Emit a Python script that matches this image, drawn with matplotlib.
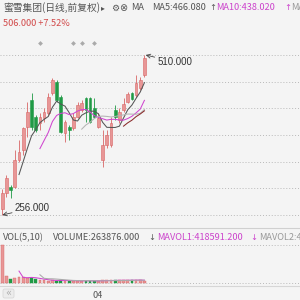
import numpy as np
import matplotlib
matplotlib.use("Agg")
import matplotlib.pyplot as plt
from matplotlib.patches import Rectangle, FancyBboxPatch

plt.rcParams['font.family'] = ['Noto Sans CJK SC', 'DejaVu Sans']

# ---------------- data ----------------
opens  = [266, 291, 301, 300, 343, 359, 396, 439, 412, 402,
          410, 418, 450, 467, 443, 386, 396, 394, 412, 423,
          442, 442, 426, 396, 343, 367, 367, 423, 407, 423,
          435, 450, 446, 458, 478]
highs  = [298, 320, 304, 359, 375, 396, 435, 450, 415, 418,
          426, 450, 474, 470, 447, 407, 399, 418, 435, 439,
          443, 443, 442, 418, 391, 391, 412, 431, 426, 442,
          451, 451, 478, 475, 510]
lows   = [256, 285, 283, 299, 340, 351, 380, 391, 388, 391,
          404, 415, 447, 435, 386, 372, 375, 391, 410, 420,
          404, 402, 410, 394, 332, 362, 364, 407, 402, 420,
          434, 439, 443, 454, 475]
closes = [291, 315, 296, 343, 356, 394, 420, 396, 391, 412,
          420, 443, 470, 439, 388, 404, 391, 412, 431, 434,
          423, 404, 412, 410, 367, 383, 402.8, 412, 420, 432,
          448, 440, 465.8, 470.6, 506]
volumes = [6900000, 1150000, 560000, 850000, 1030000, 1030000, 910000, 850000, 560000, 420000,
           380000, 360000, 400000, 350000, 420000, 330000, 300000, 320000, 310000, 290000,
           330000, 310000, 300000, 280000, 420000, 420000, 400000, 380000, 410000, 440000,
           420000, 510000, 390000, 509080, 263876]
event_days = [9, 17, 19, 22]
month_label = "04"
month_pos = 22.7

ma_periods = [5, 10, 20, 30]
ma_colors = ['#555555', '#d046d0', '#b4b4b4', '#8a2b2b']
vol_ma_periods = [5, 10]
vol_ma_colors = ['#d046d0', '#aaaaaa']

RED_FACE = '#e89696'
RED_EDGE = '#d86666'
GREEN = '#1f9a45'
BG = '#f4f4f4'
TXT = '#555555'
MAG = '#cc44cc'

n = len(closes)
idx = np.arange(n)
o = np.array(opens, float); h = np.array(highs, float)
l = np.array(lows, float); c = np.array(closes, float)
v = np.array(volumes, float)

def sma(a, p):
    out = np.full(len(a), np.nan)
    for i in range(p - 1, len(a)):
        out[i] = a[i - p + 1:i + 1].mean()
    return out

W, H = 300, 300
fig = plt.figure(figsize=(3, 3), dpi=100, facecolor=BG)

def fx(x):
    return x / W
def fy(y):
    return 1 - y / H

pitch = 4.18
x0 = 2.3
xlim = (-x0 / pitch, (W - x0) / pitch)

# ---------------- price pane ----------------
top_px, bot_px = 30, 228
ax = fig.add_axes([0, fy(bot_px), 1, (bot_px - top_px) / H])
ax.set_facecolor(BG)
hi, lo = h.max(), l.min()
hi_px, lo_px = 55, 215
ppu = (lo_px - hi_px) / (hi - lo)
ax.set_ylim(lo - (bot_px - lo_px) / ppu, hi + (hi_px - top_px) / ppu)
ax.set_xlim(*xlim)
for s in ax.spines.values():
    s.set_visible(False)
ax.set_xticks([]); ax.set_yticks([])

for g in np.linspace(lo, hi, 7):
    ax.axhline(g, color='#b9b9b9', lw=0.7, ls=(0, (1, 2)), zorder=0)

bw = 0.66
for i in range(n):
    up = c[i] >= o[i]
    col = RED_EDGE if up else GREEN
    ax.vlines(i, l[i], h[i], color=col, lw=0.6, zorder=2)
    bot = min(o[i], c[i]); ht = max(abs(c[i] - o[i]), 0.8)
    ax.add_patch(Rectangle((i - bw / 2, bot), bw, ht,
                           facecolor=RED_FACE if up else GREEN,
                           edgecolor=col, lw=0.4, zorder=3))

mas = {}
for p, col in zip(ma_periods, ma_colors):
    mas[p] = sma(c, p)
    ax.plot(idx, mas[p], color=col, lw=0.75, zorder=4)

ax.scatter(event_days, [1.0 - 13 / (bot_px - top_px)] * len(event_days), marker='D', s=6,
           color='#aaaaaa', transform=ax.get_xaxis_transform(), zorder=5, linewidths=0)

imax = int(np.argmax(h)); imin = int(np.argmin(l))
ax.annotate(f"{h[imax]:.3f}", xy=(imax + 0.3, h[imax]), xytext=(8.5, -5),
            textcoords='offset points', ha='left', va='center', fontsize=7.0,
            color='#333333', family=['Liberation Sans'],
            arrowprops=dict(arrowstyle='->', color='#444444', lw=0.6, shrinkA=0, shrinkB=0))
ax.annotate(f"{l[imin]:.3f}", xy=(imin, l[imin]), xytext=(9, 5),
            textcoords='offset points', ha='left', va='center', fontsize=7.0,
            color='#333333', family=['Liberation Sans'],
            arrowprops=dict(arrowstyle='->', color='#444444', lw=0.6, shrinkA=0, shrinkB=0))

# ---------------- volume pane ----------------
vtop_px, vbot_px = 229, 285
axv = fig.add_axes([0, fy(vbot_px), 1, (vbot_px - vtop_px) / H])
axv.set_facecolor(BG)
vmax = v.max()
vmax_px, v0_px = 245, 282.5
vpp = (v0_px - vmax_px) / vmax
axv.set_ylim(-(vbot_px - v0_px) / vpp, vmax + (vmax_px - vtop_px) / vpp)
axv.set_xlim(*xlim)
for s in axv.spines.values():
    s.set_visible(False)
axv.set_xticks([]); axv.set_yticks([])
for g in [0, vmax]:
    axv.axhline(g, color='#b9b9b9', lw=0.7, ls=(0, (1, 2)), zorder=0)
for i in range(n):
    up = c[i] >= o[i]
    axv.bar(i, v[i], width=bw, color=RED_FACE if up else GREEN,
            edgecolor=RED_EDGE if up else GREEN, lw=0.3, zorder=2)
vmas = {}
for p, col in zip(vol_ma_periods, vol_ma_colors):
    vmas[p] = sma(v, p)
    axv.plot(idx, vmas[p], color=col, lw=0.75, zorder=4)

fig.add_artist(plt.Line2D([0, 1], [fy(228), fy(228)], color='#d0d0d0', lw=0.8))
fig.add_artist(plt.Line2D([0, 1], [fy(285.5), fy(285.5)], color='#d6d6d6', lw=0.8))

# ---------------- header texts ----------------
fs = 6.6
def t(x, y, s, col=TXT, **kw):
    fig.text(fx(x), fy(y), s, color=col, fontsize=kw.pop('fontsize', fs),
             ha='left', va='center', **kw)

t(3, 8, "蜜雪集团(日线,前复权)", fontsize=7.0)
t(101, 8, "▸", fontsize=5.5, family=['DejaVu Sans'])
t(111, 8, "⚙", fontsize=6.5, family=['DejaVu Sans'])
t(119, 8, "⊗", fontsize=7, family=['DejaVu Sans'])
t(131, 8, "MA")
t(152, 8, f"MA5:{mas[5][-1]:.3f}")
t(209, 8, "↑", fontsize=6, family=['DejaVu Sans'])
t(216, 8, f"MA10:{mas[10][-1]:.3f}", col=MAG)
t(284, 8, "↑", col=MAG, fontsize=6, family=['DejaVu Sans'])
t(291, 8, f"MA20:{mas[20][-1]:.3f}", col='#999999')

pct = (c[-1] / c[-2] - 1) * 100
t(3, 23, f"{c[-1]:.3f} {pct:+.2f}%", col='#d24a4a')

t(3, 237.5, "VOL(5,10)")
t(53, 237.5, f"VOLUME:{v[-1]:.3f}")
t(148.5, 237.5, "↓", fontsize=6, family=['DejaVu Sans'])
t(157, 237.5, f"MAVOL1:{vmas[5][-1]:.3f}", col=MAG)
t(250.5, 237.5, "↓", col=MAG, fontsize=6, family=['DejaVu Sans'])
t(259, 237.5, f"MAVOL2:{vmas[10][-1]:.3f}", col='#999999')

fig.add_artist(FancyBboxPatch((fx(3), fy(298)), fx(11), 9 / H,
                              boxstyle='round,pad=0,rounding_size=0.006',
                              facecolor='#ececec', edgecolor='#d8d8d8', lw=0.6,
                              transform=fig.transFigure))
fig.text(fx(8.5), fy(293), "«", color='#b0b0b0', fontsize=7, ha='center', va='center',
         family=['DejaVu Sans'])
xpix = (month_pos - xlim[0]) / (xlim[1] - xlim[0]) * W
fig.text(fx(xpix), fy(296), month_label, color=TXT, fontsize=fs, ha='center', va='center')

fig.savefig("out.png", dpi=100, facecolor=BG)
